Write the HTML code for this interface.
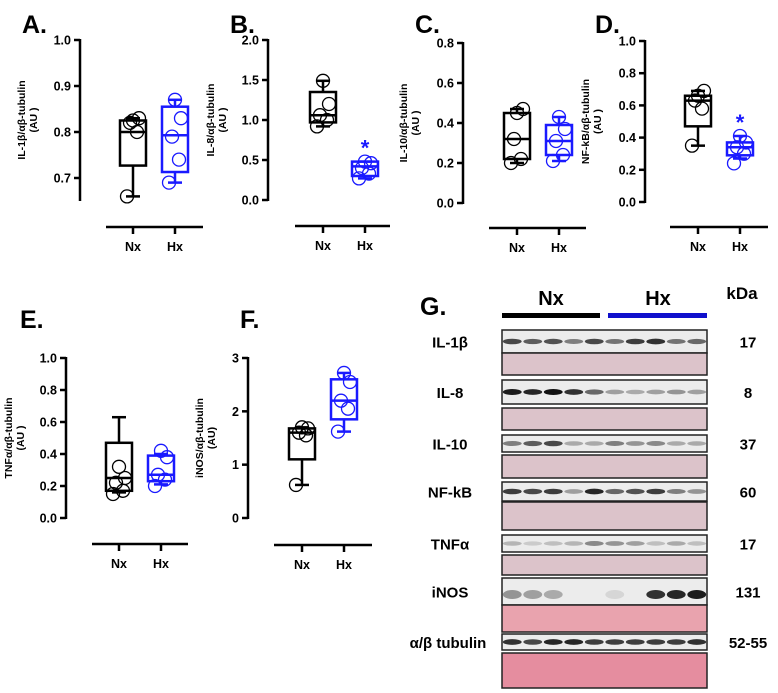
<!DOCTYPE html>
<html><head><meta charset="utf-8"><style>
html,body{margin:0;padding:0;background:#fff;}
svg{display:block;font-family:"Liberation Sans",Arial,sans-serif;}
</style></head><body>
<svg id="fig" width="778" height="693" viewBox="0 0 778 693" xmlns="http://www.w3.org/2000/svg"></svg>
<script>
// ---- chart data ----
const panelIds = ['A','B','C','D','E','F'];
const yTitles = ['IL-1β/αβ-tubulin','IL-8/αβ-tubulin','IL-10/αβ-tubulin','NF-kB/αβ-tubulin','TNFα/αβ-tubulin','iNOS/αβ-tubulin'];
const yTitles2 = ['(AU )','(AU )','(AU )','(AU )','(AU )','(AU)'];
const yMins = [0.65,0,0,0,0,0];
const yMaxs = [1.0,2.0,0.8,1.0,1.0,3];
const tickLabelsA = ['0.7','0.8','0.9','1.0'];
const tickLabelsB = ['0.0','0.5','1.0','1.5','2.0'];
const tickLabelsC = ['0.0','0.2','0.4','0.6','0.8'];
const tickLabelsD = ['0.0','0.2','0.4','0.6','0.8','1.0'];
const tickLabelsE = ['0.0','0.2','0.4','0.6','0.8','1.0'];
const tickLabelsF = ['0','1','2','3'];
const categories = ['Nx','Hx'];
// box stats per panel: [min, q1, median, q3, max]
const nxBox = [[0.66,0.727,0.80,0.825,0.83],[0.92,0.97,1.06,1.35,1.49],[0.20,0.22,0.32,0.45,0.47],[0.35,0.47,0.63,0.66,0.69],[0.16,0.17,0.25,0.47,0.63],[0.62,1.10,1.60,1.68,1.70]];
const hxBox = [[0.69,0.713,0.793,0.855,0.87],[0.27,0.30,0.42,0.48,0.48],[0.21,0.24,0.31,0.39,0.43],[0.27,0.29,0.34,0.37,0.41],[0.21,0.23,0.27,0.39,0.40],[1.62,1.85,2.20,2.60,2.72]];
const nxPts = [[0.66,0.80,0.82,0.83,0.825],[0.92,1.0,1.06,1.2,1.49],[0.20,0.22,0.32,0.47,0.45],[0.35,0.58,0.63,0.69,0.66],[0.15,0.17,0.22,0.25,0.32],[0.62,1.55,1.60,1.68,1.70]];
const hxPts = [[0.69,0.74,0.79,0.83,0.87],[0.27,0.33,0.40,0.46,0.48],[0.21,0.24,0.31,0.37,0.43],[0.24,0.30,0.34,0.37,0.41],[0.20,0.24,0.27,0.38,0.42],[1.62,2.05,2.20,2.55,2.72]];
const significant = [false,true,false,true,false,false];
// blot data
const blotNames = ['IL-1β','IL-8','IL-10','NF-kB','TNFα','iNOS','α/β tubulin'];
const kDa = ['17','8','37','60','17','131','52-55'];
const band1 = [0.75,0.65,0.7,0.5,0.75,0.55,0.8,0.85,0.55,0.6];
const band2 = [0.95,0.9,1.0,0.85,0.6,0.35,0.3,0.35,0.4,0.35];
const band3 = [0.5,0.65,0.75,0.3,0.3,0.5,0.4,0.45,0.3,0.3];
const band4 = [0.8,0.75,0.8,0.35,0.9,0.6,0.7,0.8,0.5,0.4];
const band5 = [0.25,0.15,0.2,0.25,0.45,0.4,0.35,0.2,0.3,0.2];
const band6 = [0.4,0.35,0.3,0.0,0.0,0.1,0.0,0.85,0.9,0.95];
const band7 = [0.85,0.75,0.9,0.9,0.8,0.8,0.8,0.8,0.8,0.85];
const bandSets = [band1,band2,band3,band4,band5,band6,band7];

// ---- layout (pixels) ----
const layout = [
 {ax:80, top:40, bot:178, yEnd:200, xl:106, xr:203, xLineY:227, nx:133, hx:175, lab:[22,33], tx:[25,37]},
 {ax:268, top:40, bot:200, yEnd:200, xl:295, xr:390, xLineY:226, nx:323, hx:365, lab:[230,33], tx:[214,226]},
 {ax:463, top:43, bot:203, yEnd:203, xl:489, xr:586, xLineY:228, nx:517, hx:559, lab:[415,33], tx:[407,419]},
 {ax:645, top:41, bot:202, yEnd:202, xl:670, xr:768, xLineY:227, nx:698, hx:740, lab:[595,33], tx:[589,601]},
 {ax:66, top:358, bot:518, yEnd:518, xl:92, xr:188, xLineY:544, nx:119, hx:161, lab:[20,328], tx:[12,24]},
 {ax:248, top:358, bot:518, yEnd:518, xl:274, xr:372, xLineY:545, nx:302, hx:344, lab:[240,328], tx:[203,215]}
];
const tickSets = [tickLabelsA,tickLabelsB,tickLabelsC,tickLabelsD,tickLabelsE,tickLabelsF];
const svg = document.getElementById('fig');
const NS='http://www.w3.org/2000/svg';
function mk(tag, attrs, parent){const e=document.createElementNS(NS,tag);for(const k in attrs)e.setAttribute(k,attrs[k]);(parent||svg).appendChild(e);return e;}

panelIds.forEach((id,i)=>{
  const L=layout[i];
  const g=mk('g',{});
  
  
  let hi=yMaxs[i], botV=parseFloat(tickSets[i][0]);
  const y=v=> L.bot-(v-botV)/(hi-botV)*(L.bot-L.top);
  const t=mk('text',{x:L.lab[0],y:L.lab[1],'font-size':25,'font-weight':'bold',fill:'#000'},g);
  t.textContent=id+'.';
  
  
  const yax=mk('line',{x1:L.ax,x2:L.ax,y1:L.top-1,y2:L.yEnd+1,stroke:'#000','stroke-width':2.5},g);
  
  
  tickSets[i].forEach(lbl=>{
    const v=parseFloat(lbl), yy=y(v);
    mk('line',{x1:L.ax-6,x2:L.ax,y1:yy,y2:yy,stroke:'#000','stroke-width':2.5},g);
    const tl=mk('text',{x:L.ax-9,y:yy+4.5,'font-size':12.5,'font-weight':'bold','text-anchor':'end'},g);
    tl.textContent=lbl;
    
    
  });
  const cy=(L.top+L.yEnd)/2;
  const tt=mk('text',{x:0,y:0,'font-size':10.5,'font-weight':'bold','text-anchor':'middle',transform:`translate(${L.tx[0]},${cy}) rotate(-90)`},g);
  tt.textContent=yTitles[i];
  
  
  const tt2=mk('text',{x:0,y:0,'font-size':10.5,'font-weight':'bold','text-anchor':'middle',transform:`translate(${L.tx[1]},${cy}) rotate(-90)`},g);
  tt2.textContent=yTitles2[i];
  
  
  const xax=mk('line',{x1:L.xl,x2:L.xr,y1:L.xLineY,y2:L.xLineY,stroke:'#000','stroke-width':2.5},g);
  
  
  [[L.nx,'#000',nxBox[i],nxPts[i]],[L.hx,'#1a1aff',hxBox[i],hxPts[i]]].forEach((c,ci)=>{
    const [cx,col,b,pts]=c;
    mk('line',{x1:cx,x2:cx,y1:L.xLineY,y2:L.xLineY+7,stroke:'#000','stroke-width':2.5},g);
    const xl=mk('text',{x:cx,y:L.xLineY+24,'font-size':12.5,'font-weight':'bold','text-anchor':'middle'},g);
    xl.textContent=categories[ci];
    
    
    const bg=mk('g',{},g);
    
    
    const w=13;
    mk('line',{x1:cx,x2:cx,y1:y(b[0]),y2:y(b[1]),stroke:col,'stroke-width':2.5},bg);
    mk('line',{x1:cx,x2:cx,y1:y(b[3]),y2:y(b[4]),stroke:col,'stroke-width':2.5},bg);
    mk('line',{x1:cx-7,x2:cx+7,y1:y(b[0]),y2:y(b[0]),stroke:col,'stroke-width':2.5},bg);
    mk('line',{x1:cx-7,x2:cx+7,y1:y(b[4]),y2:y(b[4]),stroke:col,'stroke-width':2.5},bg);
    mk('rect',{x:cx-w,y:y(b[3]),width:2*w,height:y(b[1])-y(b[3]),fill:'none',stroke:col,'stroke-width':2.5},bg);
    mk('line',{x1:cx-w,x2:cx+w,y1:y(b[2]),y2:y(b[2]),stroke:col,'stroke-width':2.5},bg);
    const offs=[-6,4,-3,6,0];
    pts.forEach((v,k)=>{
      const p=mk('circle',{cx:cx+offs[k%5],cy:y(v),r:6.5,fill:'none',stroke:col,'stroke-width':1.3},bg);
      
      
    });
  });
  if(significant[i]){
    const s=mk('text',{x:L.hx,y:y(hxBox[i][4])-6,'font-size':22,'font-weight':'bold',fill:'#1a1aff','text-anchor':'middle'},g);
    s.textContent='*';
    
    
  }
});

// ---- Western blot panel G ----
const G=mk('g',{});


const gl=mk('text',{x:420,y:315,'font-size':25,'font-weight':'bold'},G);gl.textContent='G.';


const nxl=mk('text',{x:551,y:305,'font-size':20,'font-weight':'bold','text-anchor':'middle'},G);nxl.textContent='Nx';


const hxl=mk('text',{x:658,y:305,'font-size':20,'font-weight':'bold','text-anchor':'middle'},G);hxl.textContent='Hx';


const kd=mk('text',{x:742,y:299,'font-size':17,'font-weight':'bold','text-anchor':'middle'},G);kd.textContent='kDa';


mk('rect',{x:502,y:313,width:98,height:5,fill:'#000'},G);
mk('rect',{x:608,y:313,width:99,height:5,fill:'#1010cc'},G);
const rows=[[330,353,353,375],[380,404,408,430],[435,452,455,478],[482,501,502,530],[535,552,555,575],[578,605,605,632],[634,650,653,688]];
const X0=502,X1=707,lane=(X1-X0)/10;
rows.forEach((r,i)=>{
  const rg=mk('g',{},G);
  
  
  mk('rect',{x:X0,y:r[0],width:X1-X0,height:r[1]-r[0],fill:'#ececec',stroke:'#222','stroke-width':1.5},rg);
  const mid=(r[0]+r[1])/2;
  bandSets[i].forEach((v,k)=>{
    if(v<=0.02)return;
    const h=i==5?8:3+v*2;
    mk('ellipse',{cx:X0+lane*(k+0.5),cy:i==5?mid+3:mid,rx:lane*0.46,ry:h/2+0.5,fill:'#111','fill-opacity':v},rg);
  });
  mk('rect',{x:X0,y:r[2],width:X1-X0,height:r[3]-r[2],fill:i==6?'#e58d9f':(i==5?'#e9a3ae':'#dcc3ca'),stroke:'#222','stroke-width':1.5},rg);
  const lx=i==6?448:450;
  const nl=mk('text',{x:lx,y:(r[0]+r[1])/2+6,'font-size':15,'font-weight':'bold','text-anchor':'middle'},rg);
  nl.textContent=blotNames[i];
  
  
  const kl=mk('text',{x:748,y:(r[0]+r[1])/2+6,'font-size':15,'font-weight':'bold','text-anchor':'middle'},rg);
  kl.textContent=kDa[i];
  
  
});
</script>
</body></html>
